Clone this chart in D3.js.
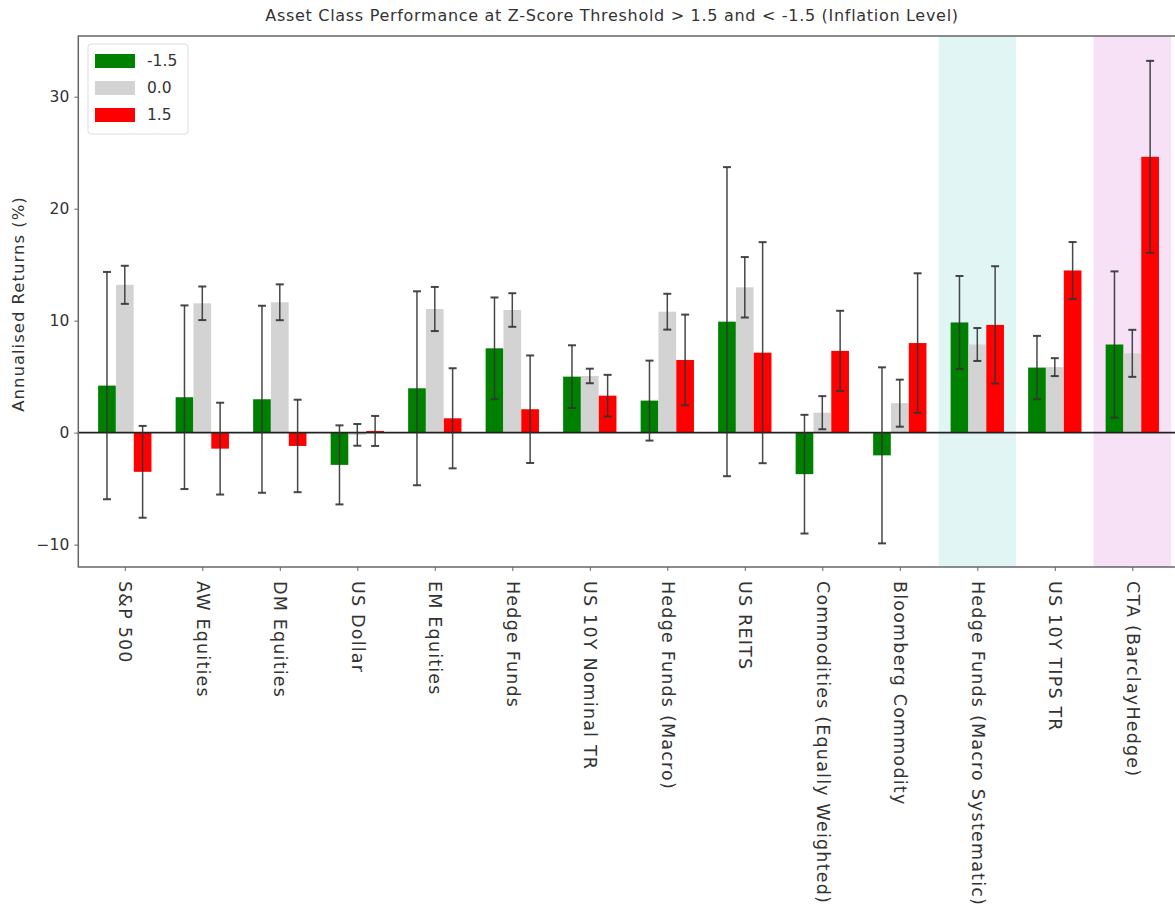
<!DOCTYPE html>
<html>
<head>
<meta charset="utf-8">
<script src="https://cdn.jsdelivr.net/npm/d3@7"></script>
<style>
  html, body { margin: 0; padding: 0; background: #fff; }
  svg { display: block; font-family: "DejaVu Sans", "Open Sans", sans-serif; }
</style>
</head>
<body>
<svg id="chart" width="1175" height="909"></svg>
<script>
const categories = ["S&P 500", "AW Equities", "DM Equities", "US Dollar", "EM Equities", "Hedge Funds",
  "US 10Y Nominal TR", "Hedge Funds (Macro)", "US REITS", "Commodities (Equally Weighted)",
  "Bloomberg Commodity", "Hedge Funds (Macro Systematic)", "US 10Y TIPS TR", "CTA (BarclayHedge)"];
const seriesNames = ["-1.5", "0.0", "1.5"];
const seriesColors = ["#008000", "#d3d3d3", "#ff0000"];
const valuesNeg = [4.2, 3.16, 2.98, -2.88, 3.96, 7.53, 5.0, 2.86, 9.91, -3.71, -2.03, 9.84, 5.81, 7.87];
const errNeg    = [10.15, 8.2, 8.35, 3.53, 8.66, 4.54, 2.8, 3.57, 13.8, 5.3, 7.86, 4.15, 2.83, 6.53];
const valuesZero = [13.2, 11.55, 11.64, -0.2, 11.04, 10.95, 5.06, 10.8, 12.98, 1.78, 2.63, 7.87, 5.85, 7.08];
const errZero    = [1.7, 1.5, 1.6, 0.97, 1.97, 1.5, 0.65, 1.6, 2.7, 1.48, 2.1, 1.47, 0.8, 2.1];
const valuesPos = [-3.5, -1.43, -1.19, 0.15, 1.28, 2.09, 3.3, 6.49, 7.14, 7.3, 8.0, 9.62, 14.48, 24.63];
const errPos    = [4.1, 4.1, 4.13, 1.34, 4.47, 4.8, 1.86, 4.05, 9.87, 3.58, 6.23, 5.24, 2.54, 8.57];
const yTicks = [-10, 0, 10, 20, 30];
const highlightSpans = [
  { from: 10.5, to: 11.5, color: "#e1f5f5" },
  { from: 12.5, to: 13.5, color: "#f6e1f6" }
];
const titleText = "Asset Class Performance at Z-Score Threshold > 1.5 and < -1.5 (Inflation Level)";
const yLabel = "Annualised Returns (%)";

const series = [
  { name: seriesNames[0], color: seriesColors[0], values: valuesNeg, errs: errNeg },
  { name: seriesNames[1], color: seriesColors[1], values: valuesZero, errs: errZero },
  { name: seriesNames[2], color: seriesColors[2], values: valuesPos, errs: errPos }
];

const svg = d3.select("#chart");
const pLeft = 78.3, pRight = 1178.8, pTop = 36, pBottom = 567;
const x = d3.scaleLinear().domain([-0.6, categories.length - 0.4]).range([pLeft, pRight]);
const y = d3.scaleLinear().domain([-12, 35.42]).range([pBottom, pTop]);
const offset = 0.23, barW = 0.228;

// spans
svg.append("g").selectAll("rect").data(highlightSpans).join("rect")
  .attr("x", d => x(d.from)).attr("width", d => x(d.to) - x(d.from))
  .attr("y", pTop).attr("height", pBottom - pTop).attr("fill", d => d.color);

// bars
const gBars = svg.append("g");
series.forEach((s, si) => {
  const dx = (si - 1) * offset;
  gBars.append("g").selectAll("rect").data(s.values).join("rect")
    .attr("x", (d, i) => x(i + dx - barW / 2))
    .attr("width", x(barW) - x(0))
    .attr("y", d => y(Math.max(0, d)))
    .attr("height", d => Math.abs(y(d) - y(0)))
    .attr("fill", s.color);
});

// zero line
svg.append("line").attr("x1", pLeft).attr("x2", pRight).attr("y1", y(0)).attr("y2", y(0))
  .attr("stroke", "#222").attr("stroke-width", 1.6);

// error bars
const gErr = svg.append("g").attr("stroke", "#333").attr("stroke-opacity", 0.9);
series.forEach((s, si) => {
  const dx = (si - 1) * offset;
  s.values.forEach((v, i) => {
    const cx = x(i + dx), e = s.errs[i];
    gErr.append("line").attr("x1", cx).attr("x2", cx).attr("y1", y(v + e)).attr("y2", y(v - e)).attr("stroke-width", 1.5);
    [v + e, v - e].forEach(t => {
      gErr.append("line").attr("x1", cx - 4).attr("x2", cx + 4).attr("y1", y(t)).attr("y2", y(t)).attr("stroke-width", 2);
    });
  });
});

// frame
svg.append("rect").attr("x", pLeft).attr("y", pTop).attr("width", pRight - pLeft).attr("height", pBottom - pTop)
  .attr("fill", "none").attr("stroke", "#666").attr("stroke-width", 1.5);

// y axis
const yAxis = d3.axisLeft(y).tickValues(yTicks).tickSize(4).tickPadding(5);
const gy = svg.append("g").attr("transform", `translate(${pLeft},0)`).call(yAxis);
gy.select(".domain").remove();
gy.selectAll("line").attr("stroke", "#666");
gy.selectAll("text").attr("font-size", 15.5).attr("fill", "#333").attr("font-family", "DejaVu Sans");

// x axis
const xAxis = d3.axisBottom(x).tickValues(d3.range(categories.length)).tickFormat(i => categories[i]).tickSize(4).tickPadding(6);
const gx = svg.append("g").attr("transform", `translate(0,${pBottom})`).call(xAxis);
gx.select(".domain").remove();
gx.selectAll("line").attr("stroke", "#666");
gx.selectAll("text").attr("font-size", 17.5).attr("letter-spacing", 1.2).attr("fill", "#333").attr("font-family", "DejaVu Sans")
  .attr("transform", "rotate(90)").attr("text-anchor", "start")
  .attr("x", 14).attr("y", 0).attr("dy", "0.35em");

// title
svg.append("text").attr("x", 612).attr("y", 21).attr("text-anchor", "middle")
  .attr("font-size", 16).attr("letter-spacing", 0.7).attr("fill", "#333").text(titleText);

// y label
svg.append("text").attr("transform", `translate(24,304) rotate(-90)`)
  .attr("text-anchor", "middle").attr("font-size", 16.5).attr("letter-spacing", 1).attr("fill", "#333").text(yLabel);

// legend
const lg = svg.append("g").attr("transform", "translate(88,44)");
lg.append("rect").attr("width", 100).attr("height", 90).attr("rx", 3)
  .attr("fill", "#fff").attr("fill-opacity", 0.8).attr("stroke", "#ddd");
series.forEach((s, i) => {
  const row = lg.append("g").attr("transform", `translate(7,${17 + i * 27})`);
  row.append("rect").attr("x", 0).attr("y", -7).attr("width", 40).attr("height", 14).attr("fill", s.color);
  row.append("text").attr("x", 52).attr("y", 0).attr("dy", "0.35em").attr("font-size", 15.5).attr("fill", "#333").text(s.name);
});
</script>
</body>
</html>
